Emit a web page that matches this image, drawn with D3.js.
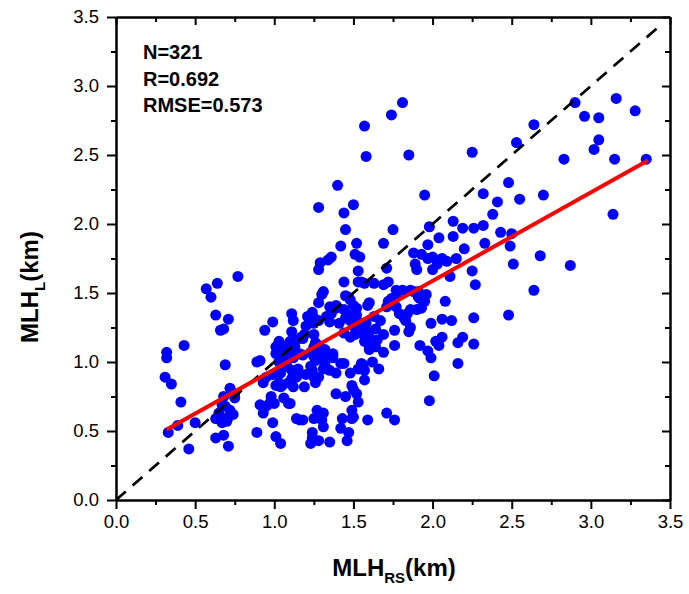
<!DOCTYPE html>
<html>
<head>
<meta charset="utf-8">
<script src="https://cdn.jsdelivr.net/npm/d3@7"></script>
<style>
  body { margin: 0; background: #fff; }
  text { font-family: "Liberation Sans", Arial, sans-serif; }
</style>
</head>
<body>
<svg id="chart" width="689" height="594"></svg>
<script>
// MLH_RS (x) vs MLH_L (y), km
const lowLeft = [
  [0.31,0.89],[0.32,1.07],[0.32,1.03],[0.35,0.84],[0.33,0.49],[0.39,0.54],[0.41,0.71],[0.43,1.12],[0.46,0.37],[0.50,0.56],
  [0.57,1.53],[0.60,1.47],[0.64,1.57],[0.63,1.34],[0.66,1.23],[0.68,1.24],[0.71,1.31],[0.77,1.62],[0.69,0.98],[0.63,0.45],
  [0.68,0.47],[0.71,0.39],[0.72,0.81],[0.68,0.75],[0.67,0.69],[0.69,0.68],[0.75,0.74],[0.75,0.77],[0.63,0.59],[0.66,0.58],
  [0.69,0.59],[0.71,0.60],[0.74,0.62],[0.65,0.63],[0.67,0.56],[0.70,0.57],[0.72,0.65]
];
const nearOne = [
  [0.89,0.49],[0.93,0.63],[0.91,0.69],[0.95,0.68],[0.99,0.56],[1.01,0.46],[1.04,0.41],[0.94,1.23],[0.99,1.29],[0.91,1.01],
  [0.89,1.00],[0.93,0.85],[0.95,0.89],[0.98,0.75],[1.00,0.70],[0.97,0.70],[1.06,0.74],[1.09,0.70],[1.04,0.82],[1.03,0.85],
  [1.01,1.11],[1.04,1.09],[1.03,1.05],[1.08,1.11],[1.10,1.09],[1.11,1.35],[1.12,1.30],[1.11,1.22],[1.06,1.01],[1.11,0.94],
  [1.08,0.97],[0.99,0.91],[1.04,0.92],[1.14,0.59],[1.03,1.15],[1.05,1.12],[1.10,1.15],[1.14,1.16],[1.18,1.17],[1.01,1.06],
  [1.06,1.04],[1.03,1.00],[1.14,1.06],[1.12,1.03],[1.18,1.05],[1.01,0.83],[1.05,0.83],[1.09,0.85],[1.12,0.82],[1.19,0.82],
  [1.18,0.58],[1.16,0.58],[1.10,0.70],[1.13,1.11],[1.17,1.18],[1.16,1.06],[1.15,0.95],[1.14,0.89],[1.11,0.88],[1.20,0.91],
  [1.19,1.20],[1.20,1.26]
];
const centreLow = [
  [1.25,0.59],[1.27,0.65],[1.28,0.43],[1.23,0.41],[1.24,0.45],[1.31,0.63],[1.30,0.58],[1.31,0.53],[1.24,0.49],[1.35,0.42],
  [1.42,0.52],[1.47,0.49],[1.46,0.43],[1.49,0.65],[1.49,0.59],[1.43,0.59],[1.59,0.58],[1.53,0.71],[1.50,0.60],
  [1.49,0.83],[1.50,0.80],[1.52,0.77],[1.39,0.77],[1.45,0.75],[1.48,0.92],[1.53,0.95],[1.56,0.98],[1.57,0.87],[1.32,0.98],
  [1.35,0.94],[1.37,1.05],[1.42,0.99],[1.44,0.99],[1.39,0.92],[1.26,0.85],[1.25,0.89],[1.31,0.95],[1.28,0.89],[1.23,0.92],
  [1.55,0.99],[1.57,0.94],[1.62,1.00],[1.66,0.95],[1.25,1.04],[1.23,0.97],[1.29,1.09],[1.23,1.07],[1.28,1.06],[1.32,1.09],
  [1.34,1.05],[1.37,1.06],[1.37,1.03],[1.30,1.03],[1.26,1.01],[1.24,0.94]
];
const centreMid = [
  [1.21,1.33],[1.25,1.32],[1.28,1.30],[1.33,1.33],[1.36,1.35],[1.39,1.39],[1.35,1.29],[1.44,1.38],[1.47,1.34],[1.48,1.30],
  [1.45,1.32],[1.52,1.30],[1.54,1.28],[1.58,1.28],[1.55,1.21],[1.58,1.20],[1.60,1.18],[1.57,1.15],[1.60,1.11],[1.64,1.11],
  [1.48,1.18],[1.25,1.20],[1.26,1.14],[1.24,1.36],[1.35,1.40],[1.39,1.41],[1.50,1.41],[1.60,1.43],[1.52,1.34],[1.58,1.23],
  [1.63,1.33],[1.65,1.16],[1.69,1.20],[1.64,1.24],[1.67,1.30],[1.50,1.26],[1.41,1.28],[1.25,1.28],[1.28,1.12],[1.51,1.20],
  [1.44,1.21],[1.25,1.11],[1.59,1.41],[1.52,1.39],[1.45,1.48],[1.48,1.45],[1.28,1.43],[1.30,1.49],[1.31,1.51],[1.47,1.47],
  [1.69,1.07],[1.76,1.12],[1.60,1.09]
];
const centreHigh = [
  [1.29,1.72],[1.28,1.67],[1.34,1.74],[1.36,1.76],[1.42,1.84],[1.28,2.12],[1.40,2.28],[1.44,2.08],[1.45,1.96],[1.50,2.14],
  [1.51,1.78],[1.52,1.86],[1.53,1.66],[1.54,1.76],[1.55,1.58],[1.57,2.71],[1.58,2.49],[1.57,1.57],[1.44,1.58],[1.53,1.58],
  [1.63,1.57],[1.69,1.56],[1.72,1.58],[1.74,2.79],[1.81,2.88],[1.85,2.50],[1.95,2.21],[1.98,1.98],[1.75,1.96],[1.69,1.86],
  [1.71,1.68],[1.77,1.52],[1.81,1.52],[1.72,1.44],[1.71,1.40],[1.86,1.38],[1.88,1.51],[1.91,1.47],[1.79,1.35],[1.84,1.35],
  [1.83,1.30],[1.77,1.40],[1.74,1.46],[1.77,1.47]
];
const nearTwo = [
  [1.88,1.79],[1.93,1.78],[1.89,1.71],[1.97,1.75],[2.00,1.76],[2.04,1.90],[2.03,1.71],[2.00,1.67],[1.97,1.85],[1.90,1.67],
  [2.06,1.75],[2.09,1.73],[1.86,1.52],[1.91,1.51],[1.96,1.49],[1.95,1.44],[1.90,1.38],[1.93,1.39],[1.82,1.32],[1.86,1.25],
  [1.85,1.22],[1.76,1.23],[1.92,1.12],[1.97,1.08],[1.99,1.03],[2.01,0.90],[1.98,0.72],[1.71,0.63],[1.76,0.58],[1.99,1.28],
  [2.02,1.15],[2.06,1.18],[2.04,1.12],[2.08,1.44],[2.06,1.31],[2.12,1.30],[2.13,2.02],[2.13,1.91],[1.92,1.46]
];
const highRight = [
  [2.11,1.62],[2.15,1.75],[2.20,1.82],[2.19,1.97],[2.26,1.97],[2.32,1.99],[2.33,1.86],[2.25,1.66],[2.27,1.56],[2.26,1.32],
  [2.16,1.14],[2.19,1.18],[2.26,1.13],[2.16,0.99],[2.25,2.52],[2.32,2.22],[2.41,2.16],[2.38,2.07],[2.43,1.94],[2.50,1.93],
  [2.49,1.84],[2.51,1.71],[2.48,2.30],[2.55,2.18],[2.53,2.59],[2.64,2.72],[2.70,2.21],[2.68,1.77],[2.64,1.52],[2.48,1.34],
  [2.87,1.70],[2.83,2.47],[2.90,2.88],[2.96,2.78],[3.05,2.77],[3.16,2.91],[3.28,2.82],[3.05,2.61],[3.02,2.54],[3.15,2.47],
  [3.35,2.47],[3.14,2.07]
];

const fitLine = [[0.32, 0.51], [3.36, 2.46]];
const oneToOne = [[0, 0], [3.42, 3.42]];
const majorTicks = [0, 0.5, 1.0, 1.5, 2.0, 2.5, 3.0, 3.5];
const minorTicks = [0.25, 0.75, 1.25, 1.75, 2.25, 2.75, 3.25];
const statLines = ['N=321', 'R=0.692', 'RMSE=0.573'];

const points = [].concat(lowLeft, nearOne, centreLow, centreMid, centreHigh, nearTwo, highRight);

const svg = d3.select('#chart');
const plotL = 116, plotR = 670, plotT = 17, plotB = 500;

const x = d3.scaleLinear().domain([0, 3.5]).range([plotL, plotR]);
const y = d3.scaleLinear().domain([0, 3.5]).range([plotB, plotT]);
const fmt = d3.format('.1f');

function styleAxis(g) {
  g.selectAll('path.domain').attr('stroke', '#000').attr('stroke-width', 2);
  g.selectAll('.tick line').attr('stroke', '#000').attr('stroke-width', 2);
  g.selectAll('.tick text').attr('font-size', 18.5).attr('fill', '#000')
    .style('font-family', '"Liberation Sans", Arial, sans-serif');
}

// bottom + left: outward ticks with labels
svg.append('g').attr('transform', `translate(0,${plotB})`)
  .call(d3.axisBottom(x).tickValues(minorTicks).tickSize(5).tickSizeOuter(0).tickFormat(''))
  .call(styleAxis);
svg.append('g').attr('transform', `translate(0,${plotB})`)
  .call(d3.axisBottom(x).tickValues(majorTicks).tickSize(9).tickSizeOuter(0).tickPadding(6).tickFormat(fmt))
  .call(styleAxis);
svg.append('g').attr('transform', `translate(${plotL},0)`)
  .call(d3.axisLeft(y).tickValues(minorTicks).tickSize(5).tickSizeOuter(0).tickFormat(''))
  .call(styleAxis);
svg.append('g').attr('transform', `translate(${plotL},0)`)
  .call(d3.axisLeft(y).tickValues(majorTicks).tickSize(9).tickSizeOuter(0).tickPadding(8).tickFormat(fmt))
  .call(styleAxis);

// top + right: inward ticks, no labels
svg.append('g').attr('transform', `translate(0,${plotT})`)
  .call(d3.axisTop(x).tickValues(minorTicks).tickSize(-5).tickSizeOuter(0).tickFormat(''))
  .call(styleAxis);
svg.append('g').attr('transform', `translate(0,${plotT})`)
  .call(d3.axisTop(x).tickValues(majorTicks).tickSize(-8).tickSizeOuter(0).tickFormat(''))
  .call(styleAxis);
svg.append('g').attr('transform', `translate(${plotR},0)`)
  .call(d3.axisRight(y).tickValues(minorTicks).tickSize(-5).tickSizeOuter(0).tickFormat(''))
  .call(styleAxis);
svg.append('g').attr('transform', `translate(${plotR},0)`)
  .call(d3.axisRight(y).tickValues(majorTicks).tickSize(-8).tickSizeOuter(0).tickFormat(''))
  .call(styleAxis);

// scatter
svg.append('g').selectAll('circle')
  .data(points)
  .join('circle')
  .attr('cx', d => x(d[0]))
  .attr('cy', d => y(d[1]))
  .attr('r', 5.5)
  .attr('fill', '#0000ff');

const line = d3.line().x(d => x(d[0])).y(d => y(d[1]));

svg.append('path')
  .attr('d', line(oneToOne))
  .attr('fill', 'none')
  .attr('stroke', '#000')
  .attr('stroke-width', 2.7)
  .attr('stroke-dasharray', '13,9');

svg.append('path')
  .attr('d', line(fitLine))
  .attr('fill', 'none')
  .attr('stroke', '#ff0000')
  .attr('stroke-width', 4);

// stats text
svg.append('g').selectAll('text')
  .data(statLines)
  .join('text')
  .attr('x', 143)
  .attr('y', (d, i) => 59 + i * 26.5)
  .attr('font-size', 20)
  .attr('font-weight', 'bold')
  .text(d => d);

// axis titles
const xt = svg.append('text')
  .attr('x', 394).attr('y', 576)
  .attr('text-anchor', 'middle')
  .attr('font-size', 24).attr('font-weight', 'bold');
xt.append('tspan').text('MLH');
xt.append('tspan').attr('font-size', 15).attr('dy', 7).text('RS');
xt.append('tspan').attr('dy', -7).text('(km)');

const yt = svg.append('text')
  .attr('transform', 'translate(38,287) rotate(-90)')
  .attr('text-anchor', 'middle')
  .attr('font-size', 24).attr('font-weight', 'bold');
yt.append('tspan').text('MLH');
yt.append('tspan').attr('font-size', 15).attr('dy', 7).text('L');
yt.append('tspan').attr('dy', -7).text('(km)');
</script>
</body>
</html>
